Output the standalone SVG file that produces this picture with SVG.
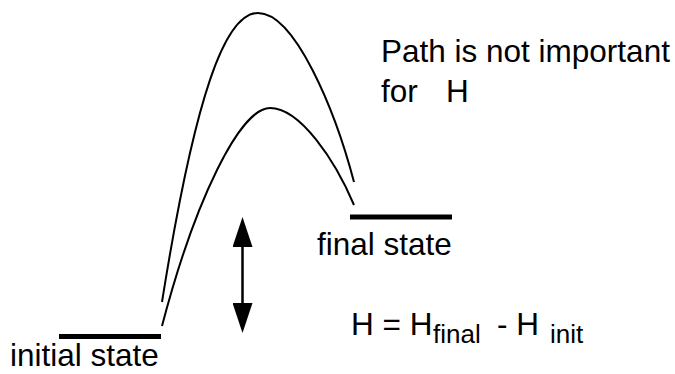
<svg xmlns="http://www.w3.org/2000/svg" width="675" height="374" viewBox="0 0 675 374">
  <style>
    .t { font-family: "Liberation Sans", Arial, sans-serif; font-size: 31.5px; fill: #000; }
    .sub { font-size: 26px; }
    .bar { fill: #000; }
    .curve { fill: none; stroke: #000; stroke-width: 2; }
    .arrow { fill: none; stroke: #000; stroke-width: 2.5; }
  </style>
  <defs>
    <marker id="head" viewBox="0 0 30 20" refX="25" refY="10" markerWidth="30" markerHeight="20" markerUnits="userSpaceOnUse" orient="auto-start-reverse">
      <path d="M0,0 L30,10 L0,20 z" fill="#000"/>
    </marker>
  </defs>

  <g id="connectors">
    <path class="curve" d="M162,302 C195,95 225,13 258,13 C295,13 335,110 354,182"/>
    <path class="curve" d="M162,326 C195,200 240,108 270,108 C300,108 335,160 354,205"/>
    <line class="arrow" x1="242.5" y1="222" x2="242.5" y2="328" marker-start="url(#head)" marker-end="url(#head)"/>
  </g>

  <g id="initial-state">
    <rect class="bar" x="59" y="334" width="102" height="5"/>
    <text class="t" x="10" y="366">initial state</text>
  </g>

  <g id="final-state">
    <rect class="bar" x="350" y="214.5" width="102" height="5"/>
    <text class="t" x="317" y="255">final state</text>
  </g>

  <g id="note">
    <text class="t" x="381" y="62">Path is not important</text>
    <text class="t" x="381" y="102">for<tspan x="446">H</tspan></text>
  </g>

  <g id="formula">
    <text class="t" x="351" y="335">H = H<tspan class="sub" x="433" y="343">final</tspan><tspan x="497" y="335">- H</tspan><tspan class="sub" x="550" y="343">init</tspan></text>
  </g>
</svg>
